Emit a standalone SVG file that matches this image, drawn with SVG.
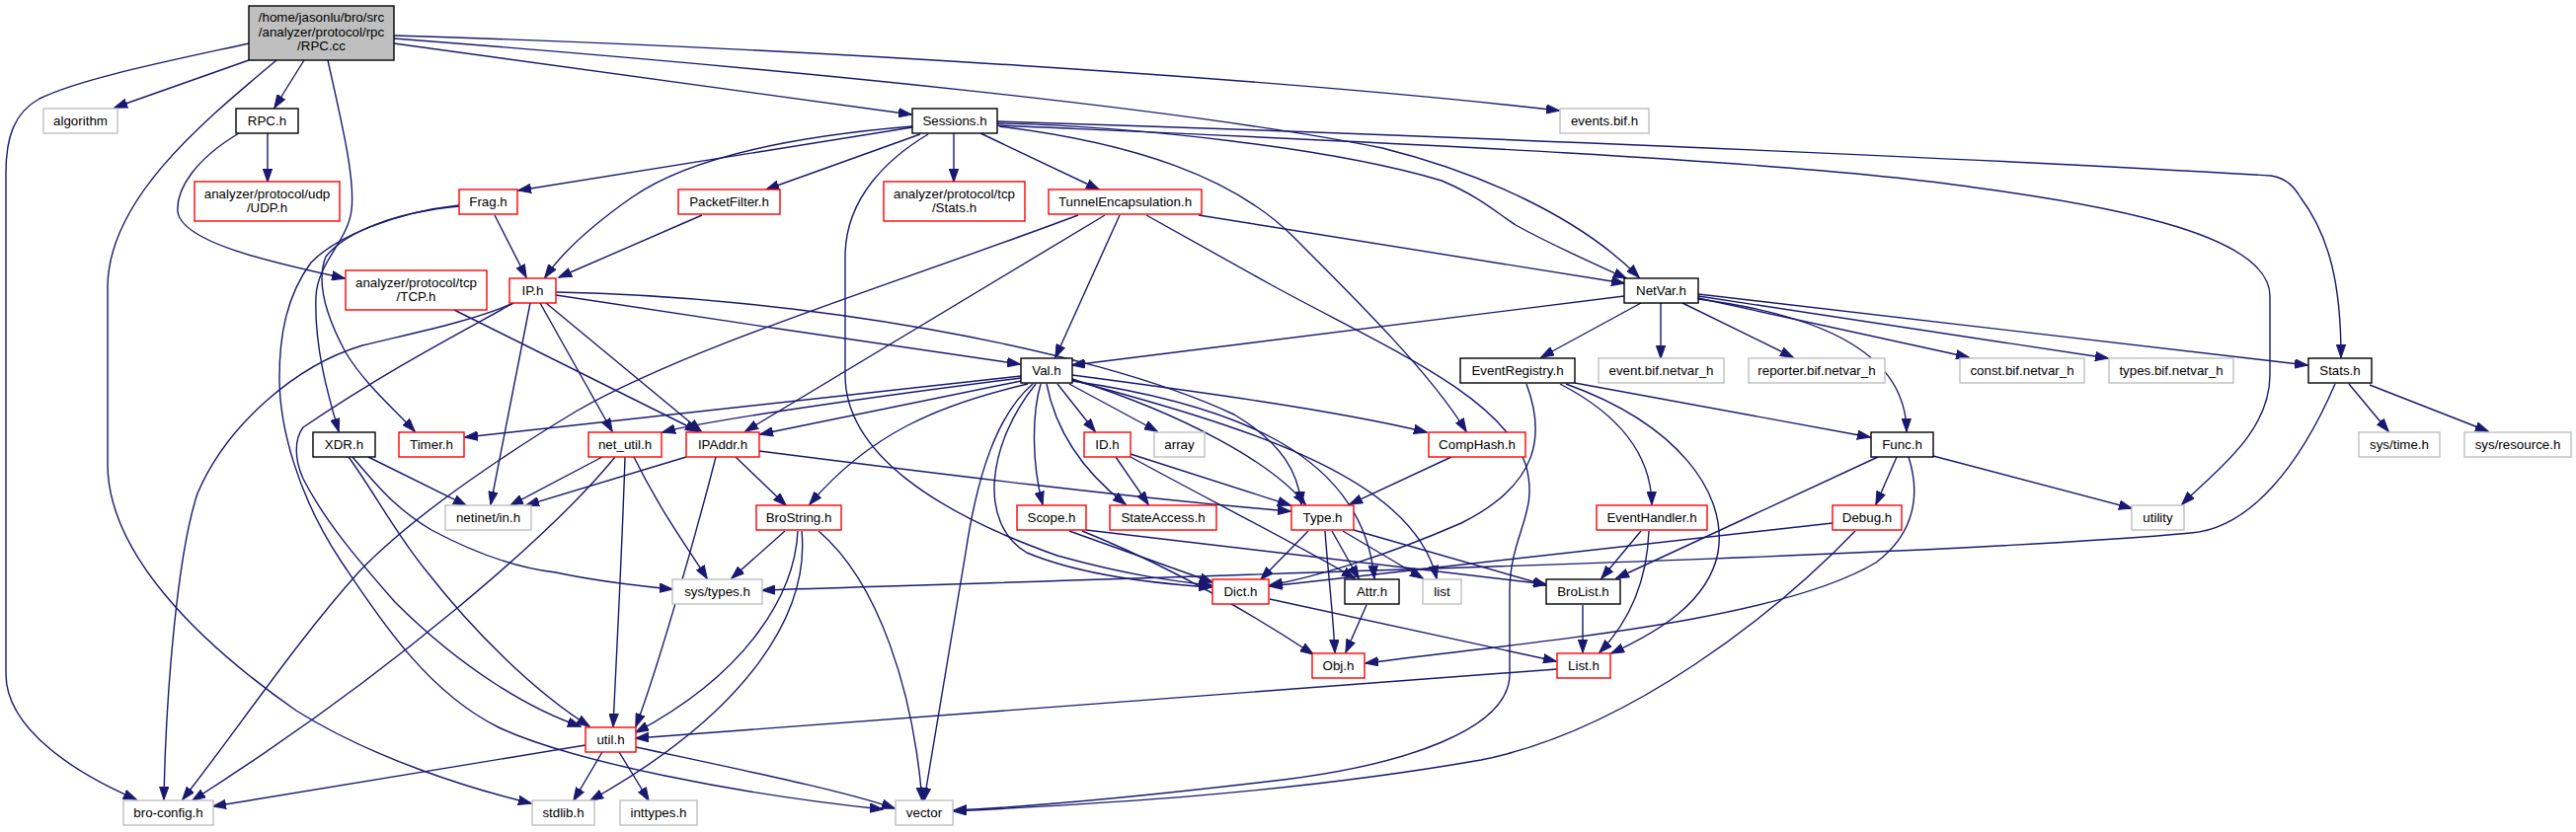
<svg xmlns="http://www.w3.org/2000/svg" width="2609" height="843" viewBox="0 0 2609 843">
<defs>
<style>
.node rect{fill:#fff;stroke-width:1.4}
.b rect{stroke:#000}
.r rect{stroke:#ff0000}
.g rect{stroke:#bfbfbf}
.m rect{fill:#bfbfbf;stroke:#000}
text{font-family:"Liberation Sans",Arial,sans-serif;font-size:13.33px;text-anchor:middle;fill:#000}
#edges path{fill:none;stroke:#191970;stroke-width:1.4;marker-end:url(#a)}
</style>
<marker id="a" markerWidth="14" markerHeight="10" refX="13" refY="5" orient="auto" markerUnits="userSpaceOnUse"><path d="M0,0.3 L13.5,5 L0,9.7 z" fill="#191970" stroke="#191970" stroke-width="1"/></marker>
</defs>
<rect width="2609" height="843" fill="#fff"/>
<g id="edges">
<path d="M252,61 L116,109"/>
<path d="M308,61 L278,109"/>
<path d="M252,44 C170,62 80,80 40,100 C14,114 6,140 6,175 L6,683 C6,740 80,785 138,810"/>
<path d="M280,61 C210,120 110,200 109,290 L109,470 C109,560 200,650 300,720 C380,770 480,800 538,814"/>
<path d="M332,61 C345,120 360,180 356,213 C352,245 322,265 320,300 C318,350 332,400 343,437"/>
<path d="M399,44 L923,116"/>
<path d="M399,36 C800,48 1300,80 1579,112"/>
<path d="M399,39 C800,70 1200,110 1400,150 C1500,175 1600,220 1660,281"/>
<path d="M1010,125 C1150,128 1350,150 1460,183 C1500,200 1515,215 1535,228 C1575,250 1610,265 1647,282"/>
<path d="M1010,123 C1400,135 2000,160 2300,178 C2318,181 2325,192 2330,200 C2360,240 2371,290 2371,362"/>
<path d="M1010,127 C1300,140 1800,160 2000,190 C2150,210 2299,240 2299,300 L2299,380 C2299,440 2240,480 2210,511"/>
<path d="M924,129 L525,193"/>
<path d="M924,128 C780,140 690,165 640,200 C600,228 570,255 552,281"/>
<path d="M711,218 L566,281"/>
<path d="M932,136 L776,192"/>
<path d="M966,135 L966,184"/>
<path d="M993,135 L1113,192"/>
<path d="M940,136 C900,160 856,200 856,260 L856,380 C856,460 950,520 1071,563 C1150,585 1200,590 1227,593"/>
<path d="M1012,128 C1150,145 1250,180 1310,240 C1380,310 1450,380 1485,437"/>
<path d="M1214,218 L1645,287"/>
<path d="M1119,218 L755,437"/>
<path d="M1134,218 L1069,362"/>
<path d="M1161,218 L1290,290 C1400,350 1520,400 1545,470 C1560,520 1529,540 1529,600 L1529,683 C1529,740 1420,775 1300,790 C1150,808 1030,818 966,821"/>
<path d="M1092,218 C900,290 700,350 583,417 C520,455 420,520 363,580 C300,650 240,740 185,810"/>
<path d="M563,299 C700,320 900,350 1033,369"/>
<path d="M563,296 C800,300 1100,350 1250,420 C1300,450 1315,480 1318,511"/>
<path d="M553,307 L710,437"/>
<path d="M547,307 L620,437"/>
<path d="M537,307 L497,511"/>
<path d="M520,307 C480,325 420,337 367,350 C300,370 230,430 200,500 C180,560 168,700 166,810"/>
<path d="M520,307 C480,330 400,370 307,433 C298,445 298,465 307,485 C330,530 365,570 400,610 C470,680 540,720 588,736"/>
<path d="M465,209 C400,215 350,235 330,260 C320,285 330,320 350,357 C370,390 400,415 420,437"/>
<path d="M465,208 C400,215 340,240 315,266 C290,300 283,340 283,383 C283,430 300,500 345,568 C380,620 430,700 505,737 C580,772 750,805 894,820"/>
<path d="M501,218 L533,281"/>
<path d="M460,314 L707,437"/>
<path d="M242,135 C200,160 178,190 180,215 C185,245 270,265 349,282"/>
<path d="M271,135 L271,184"/>
<path d="M373,463 L472,512"/>
<path d="M357,463 C380,490 400,515 437,537 C480,560 520,575 563,580 C600,588 640,593 681,597"/>
<path d="M353,463 C380,500 400,540 433,580 C480,640 540,700 597,736"/>
<path d="M610,463 L517,512"/>
<path d="M642,463 C670,520 700,560 716,586"/>
<path d="M633,463 C630,560 625,650 621,736"/>
<path d="M623,463 C560,540 400,680 195,811"/>
<path d="M695,463 L533,512"/>
<path d="M725,463 C700,560 665,680 644,736"/>
<path d="M745,463 L796,512"/>
<path d="M769,457 C950,480 1150,505 1307,518"/>
<path d="M795,538 L741,586"/>
<path d="M808,538 C805,600 760,680 644,742"/>
<path d="M812,538 C820,620 760,720 598,811"/>
<path d="M829,538 C890,590 925,700 934,811"/>
<path d="M593,755 L216,817"/>
<path d="M610,762 L581,811"/>
<path d="M627,762 L657,811"/>
<path d="M644,757 C750,780 850,800 906,819"/>
<path d="M1577,678 L644,748"/>
<path d="M1286,607 L1576,670"/>
<path d="M1384,613 L1363,661"/>
<path d="M1603,613 L1603,661"/>
<path d="M1342,538 C1345,580 1350,620 1352,661"/>
<path d="M1325,538 L1277,587"/>
<path d="M1349,538 L1376,586"/>
<path d="M1360,538 L1441,586"/>
<path d="M1371,537 L1566,593"/>
<path d="M1130,463 L1163,511"/>
<path d="M1145,460 L1307,512"/>
<path d="M1145,463 C1250,520 1330,560 1372,586"/>
<path d="M1470,463 L1367,511"/>
<path d="M1083,538 L1228,590"/>
<path d="M1096,538 C1200,580 1280,630 1330,663"/>
<path d="M1100,537 L1566,592"/>
<path d="M1662,538 L1622,586"/>
<path d="M1670,538 C1668,590 1650,630 1620,661"/>
<path d="M1580,389 C1640,420 1672,460 1673,511"/>
<path d="M1595,388 L1894,443"/>
<path d="M1586,389 C1700,430 1750,500 1740,560 C1730,610 1680,640 1632,662"/>
<path d="M1546,389 C1565,440 1560,490 1480,530 C1400,565 1330,585 1286,593"/>
<path d="M1921,463 L1900,511"/>
<path d="M1902,463 L1637,586"/>
<path d="M1958,462 L2159,515"/>
<path d="M1933,463 C1945,500 1940,540 1900,570 C1800,630 1550,650 1383,672"/>
<path d="M1856,530 L1286,594"/>
<path d="M1879,538 C1800,620 1650,740 1500,770 C1300,805 1100,815 966,822"/>
<path d="M2365,389 C2330,470 2280,535 2219,540 C2000,560 1500,575 772,598"/>
<path d="M2379,389 L2419,437"/>
<path d="M2400,390 L2520,437"/>
<path d="M1662,307 L1561,362"/>
<path d="M1682,307 L1682,363"/>
<path d="M1704,307 L1816,362"/>
<path d="M1720,302 L1994,362"/>
<path d="M1720,300 L2135,363"/>
<path d="M1720,298 L2337,370"/>
<path d="M1720,303 C1850,320 1930,360 1931,437"/>
<path d="M1645,300 L1086,370"/>
<path d="M1086,380 C1200,395 1350,415 1445,438"/>
<path d="M1086,384 C1200,420 1290,470 1322,511"/>
<path d="M1086,386 C1250,410 1380,460 1392,586"/>
<path d="M1086,385 C1250,430 1430,480 1455,586"/>
<path d="M1034,381 L471,443"/>
<path d="M1034,383 C900,400 720,425 671,438"/>
<path d="M1034,386 L770,440"/>
<path d="M1041,389 C950,410 880,440 820,511"/>
<path d="M1046,389 C1010,420 990,480 978,560 L936,811"/>
<path d="M1049,389 C1000,450 990,530 1040,560 C1100,585 1180,592 1227,595"/>
<path d="M1054,389 C1045,420 1045,470 1056,511"/>
<path d="M1060,389 C1070,440 1100,480 1140,511"/>
<path d="M1071,389 L1109,437"/>
<path d="M1083,389 L1172,437"/>
</g>
<g id="n-rpccc" class="node m"><rect x="252" y="6" width="147" height="55"/><text x="325.5" y="22">/home/jasonlu/bro/src</text><text x="325.5" y="37">/analyzer/protocol/rpc</text><text x="325.5" y="51">/RPC.cc</text></g>
<g id="n-algorithm" class="node g"><rect x="44" y="110" width="75" height="25"/><text x="81.5" y="127">algorithm</text></g>
<g id="n-rpch" class="node b"><rect x="239" y="110" width="63" height="25"/><text x="270.5" y="127">RPC.h</text></g>
<g id="n-udp" class="node r"><rect x="197" y="184" width="147" height="40"/><text x="270.5" y="201">analyzer/protocol/udp</text><text x="270.5" y="215">/UDP.h</text></g>
<g id="n-frag" class="node r"><rect x="465" y="192" width="59" height="25"/><text x="494.5" y="209">Frag.h</text></g>
<g id="n-packetfilter" class="node r"><rect x="687" y="192" width="103" height="25"/><text x="738.5" y="209">PacketFilter.h</text></g>
<g id="n-tcpstats" class="node r"><rect x="895" y="184" width="143" height="40"/><text x="966.5" y="201">analyzer/protocol/tcp</text><text x="966.5" y="215">/Stats.h</text></g>
<g id="n-tunnel" class="node r"><rect x="1062" y="192" width="155" height="25"/><text x="1139.5" y="209">TunnelEncapsulation.h</text></g>
<g id="n-sessions" class="node b"><rect x="924" y="110" width="86" height="25"/><text x="967" y="127">Sessions.h</text></g>
<g id="n-eventsbif" class="node g"><rect x="1580" y="110" width="90" height="25"/><text x="1625" y="127">events.bif.h</text></g>
<g id="n-tcp" class="node r"><rect x="350" y="274" width="143" height="40"/><text x="421.5" y="291">analyzer/protocol/tcp</text><text x="421.5" y="305">/TCP.h</text></g>
<g id="n-ip" class="node r"><rect x="516" y="282" width="47" height="25"/><text x="539.5" y="299">IP.h</text></g>
<g id="n-netvar" class="node b"><rect x="1645" y="282" width="75" height="25"/><text x="1682.5" y="299">NetVar.h</text></g>
<g id="n-val" class="node b"><rect x="1034" y="363" width="52" height="25"/><text x="1060" y="380">Val.h</text></g>
<g id="n-eventregistry" class="node b"><rect x="1479" y="363" width="116" height="25"/><text x="1537" y="380">EventRegistry.h</text></g>
<g id="n-eventbifnetvar" class="node g"><rect x="1619" y="363" width="127" height="25"/><text x="1682.5" y="380">event.bif.netvar_h</text></g>
<g id="n-reporterbifnetvar" class="node g"><rect x="1771" y="363" width="138" height="25"/><text x="1840" y="380">reporter.bif.netvar_h</text></g>
<g id="n-constbifnetvar" class="node g"><rect x="1985" y="363" width="126" height="25"/><text x="2048" y="380">const.bif.netvar_h</text></g>
<g id="n-typesbifnetvar" class="node g"><rect x="2136" y="363" width="126" height="25"/><text x="2199" y="380">types.bif.netvar_h</text></g>
<g id="n-stats" class="node b"><rect x="2338" y="363" width="64" height="25"/><text x="2370" y="380">Stats.h</text></g>
<g id="n-xdr" class="node b"><rect x="317" y="438" width="63" height="25"/><text x="348.5" y="455">XDR.h</text></g>
<g id="n-timer" class="node r"><rect x="404" y="438" width="66" height="25"/><text x="437" y="455">Timer.h</text></g>
<g id="n-netutil" class="node r"><rect x="596" y="438" width="74" height="25"/><text x="633" y="455">net_util.h</text></g>
<g id="n-ipaddr" class="node r"><rect x="695" y="438" width="74" height="25"/><text x="732" y="455">IPAddr.h</text></g>
<g id="n-id" class="node r"><rect x="1098" y="438" width="47" height="25"/><text x="1121.5" y="455">ID.h</text></g>
<g id="n-array" class="node g"><rect x="1169" y="438" width="51" height="25"/><text x="1194.5" y="455">array</text></g>
<g id="n-comphash" class="node r"><rect x="1447" y="438" width="98" height="25"/><text x="1496" y="455">CompHash.h</text></g>
<g id="n-func" class="node b"><rect x="1895" y="438" width="63" height="25"/><text x="1926.5" y="455">Func.h</text></g>
<g id="n-systime" class="node g"><rect x="2389" y="438" width="82" height="25"/><text x="2430" y="455">sys/time.h</text></g>
<g id="n-sysresource" class="node g"><rect x="2496" y="438" width="108" height="25"/><text x="2550" y="455">sys/resource.h</text></g>
<g id="n-netinet" class="node g"><rect x="451" y="512" width="87" height="25"/><text x="494.5" y="529">netinet/in.h</text></g>
<g id="n-brostring" class="node r"><rect x="766" y="512" width="86" height="25"/><text x="809" y="529">BroString.h</text></g>
<g id="n-scope" class="node r"><rect x="1030" y="512" width="70" height="25"/><text x="1065" y="529">Scope.h</text></g>
<g id="n-stateaccess" class="node r"><rect x="1124" y="512" width="108" height="25"/><text x="1178" y="529">StateAccess.h</text></g>
<g id="n-type" class="node r"><rect x="1308" y="512" width="63" height="25"/><text x="1339.5" y="529">Type.h</text></g>
<g id="n-eventhandler" class="node r"><rect x="1617" y="512" width="112" height="25"/><text x="1673" y="529">EventHandler.h</text></g>
<g id="n-debug" class="node r"><rect x="1856" y="512" width="70" height="25"/><text x="1891" y="529">Debug.h</text></g>
<g id="n-utility" class="node g"><rect x="2159" y="512" width="53" height="25"/><text x="2185.5" y="529">utility</text></g>
<g id="n-systypes" class="node g"><rect x="681" y="587" width="91" height="25"/><text x="726.5" y="604">sys/types.h</text></g>
<g id="n-dict" class="node r"><rect x="1228" y="587" width="57" height="25"/><text x="1256.5" y="604">Dict.h</text></g>
<g id="n-attr" class="node b"><rect x="1362" y="587" width="55" height="25"/><text x="1389.5" y="604">Attr.h</text></g>
<g id="n-list" class="node g"><rect x="1441" y="587" width="39" height="25"/><text x="1460.5" y="604">list</text></g>
<g id="n-brolist" class="node b"><rect x="1566" y="587" width="75" height="25"/><text x="1603.5" y="604">BroList.h</text></g>
<g id="n-obj" class="node r"><rect x="1329" y="662" width="53" height="25"/><text x="1355.5" y="679">Obj.h</text></g>
<g id="n-listh" class="node r"><rect x="1577" y="662" width="54" height="25"/><text x="1604" y="679">List.h</text></g>
<g id="n-util" class="node r"><rect x="593" y="737" width="51" height="25"/><text x="618.5" y="754">util.h</text></g>
<g id="n-broconfig" class="node g"><rect x="125" y="811" width="91" height="25"/><text x="170.5" y="828">bro-config.h</text></g>
<g id="n-stdlib" class="node g"><rect x="539" y="811" width="63" height="25"/><text x="570.5" y="828">stdlib.h</text></g>
<g id="n-inttypes" class="node g"><rect x="628" y="811" width="78" height="25"/><text x="667" y="828">inttypes.h</text></g>
<g id="n-vector" class="node g"><rect x="907" y="811" width="58" height="25"/><text x="936" y="828">vector</text></g>
</svg>
